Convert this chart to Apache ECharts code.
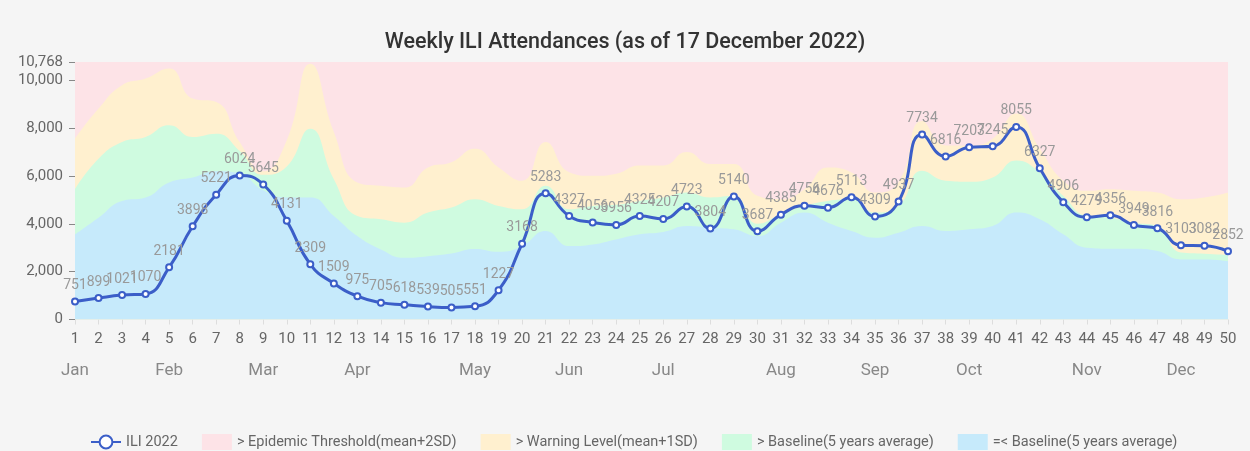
<!DOCTYPE html>
<html><head><meta charset="utf-8">
<script src="https://cdn.jsdelivr.net/npm/echarts@6/dist/echarts.min.js"></script>
<style>html,body{margin:0;padding:0;background:#f5f5f5}#c{width:1250px;height:451px}</style>
</head><body><div id="c"></div>
<script>
const weeks = ['1','2','3','4','5','6','7','8','9','10','11','12','13','14','15','16','17','18','19','20','21','22','23','24','25','26','27','28','29','30','31','32','33','34','35','36','37','38','39','40','41','42','43','44','45','46','47','48','49','50'];
const ili2022 = [751,899,1021,1070,2181,3898,5221,6024,5645,4131,2309,1509,975,705,618,539,505,551,1227,3168,5283,4327,4056,3956,4325,4207,4723,3804,5140,3687,4385,4756,4676,5113,4309,4937,7734,6816,7203,7245,8055,6327,4906,4279,4356,3949,3816,3103,3082,2852];
// Epidemic threshold (mean+2SD)
const epidemic = [7560,8820,9800,10080,10500,9240,9100,7420,6200,7500,10700,7840,5730,5590,5520,6360,6580,7140,6360,5800,7420,6160,6010,6100,6440,6440,7000,6500,6500,5170,5030,5450,6360,6150,5310,5730,8300,7280,7280,7560,8610,7140,5800,5380,5450,5380,5310,5030,5100,5310];
// Warning level (mean+1SD)
const warning = [5450,6720,7420,7630,8120,7630,7770,7050,6050,6400,7980,5870,4330,4190,4050,4470,4680,5030,4750,4610,5590,4610,4750,4800,4960,5100,5310,5100,5170,4000,4400,4750,4960,5030,4470,4750,6220,5800,5760,5940,6650,6150,5170,4330,4260,4050,3910,2800,2750,2700];
// Baseline (5 years average)
const baseline = [3560,4260,4960,5100,5730,5940,6200,6100,5400,5100,5100,4330,3490,2930,2580,2650,2760,2950,2830,3070,3700,3070,3140,3350,3560,3660,3910,3840,3770,3490,4050,4470,4050,3700,3420,3630,3910,3700,3770,3910,4470,4190,3560,3000,2960,2960,2860,2510,2510,2440];
const yMax = 10768;
const yTicks = [0,2000,4000,6000,8000,10000,10768];
const monthNames = ['Jan','Feb','Mar','Apr','May','Jun','Jul','Aug','Sep','Oct','Nov','Dec'];
const monthWeeks = [1,5,9,13,18,22,26,31,35,39,44,48];

const monthLabels = weeks.map(w => { const i = monthWeeks.indexOf(+w); return i >= 0 ? monthNames[i] : ''; });
const names = ['ILI 2022','> Epidemic Threshold(mean+2SD)','> Warning Level(mean+1SD)','> Baseline(5 years average)','=< Baseline(5 years average)'];
const cPink='#fde3e7', cYellow='#fff0cf', cGreen='#cffbe0', cBlue='#c6eafb', cLine='#3b5ec8';

const chart = echarts.init(document.getElementById('c'), null, {renderer:'canvas'});
const fam = 'Roboto, "Noto Sans", sans-serif';
function area(name, data, color){
  return {name, type:'line', data, smooth:true, symbol:'none', showSymbol:false,
    lineStyle:{width:0}, itemStyle:{color}, areaStyle:{color, opacity:1}, silent:true, z:1};
}
chart.setOption({
  backgroundColor:'#f5f5f5',
  animation:false,
  textStyle:{fontFamily:fam},
  title:{text:'Weekly ILI Attendances (as of 17 December 2022)', left:'center', top:27,
    textStyle:{fontSize:21.5, fontWeight:500, color:'#333', fontFamily:fam}},
  grid:{left:75, right:22, top:62, bottom:131.5, show:true, backgroundColor:cPink, borderWidth:0},
  legend:{left:85, top:429, itemGap:24, itemWidth:30, itemHeight:16,
    textStyle:{fontSize:14.5, color:'#666', fontFamily:fam},
    data:[{name:names[0]},{name:names[1],icon:'rect'},{name:names[2],icon:'rect'},{name:names[3],icon:'rect'},{name:names[4],icon:'rect'}]},
  xAxis:[
    {type:'category', data:weeks, boundaryGap:false,
      axisLine:{show:false}, axisTick:{show:true, alignWithLabel:true, lineStyle:{color:'#ddd'}},
      axisLabel:{interval:0, fontSize:15, color:'#666', margin:12}},
    {type:'category', data:monthLabels, boundaryGap:false, position:'bottom', offset:31,
      axisLine:{show:false}, axisTick:{show:false},
      axisLabel:{interval:0, fontSize:17, color:'#888', margin:12}}
  ],
  yAxis:{type:'value', min:0, max:yMax, interval:2000,
    splitLine:{show:false}, axisLine:{show:false},
    axisTick:{show:true, length:6, lineStyle:{color:'#888'}},
    axisLabel:{fontSize:15, color:'#666', margin:12,
      formatter:v => yTicks.includes(v) ? v.toLocaleString('en-US') : ''}},
  series:[
    {name:names[1], type:'line', data:[], itemStyle:{color:cPink}, areaStyle:{color:cPink}, lineStyle:{width:0}},
    area(names[2], epidemic, cYellow),
    area(names[3], warning, cGreen),
    area(names[4], baseline, cBlue),
    {name:names[0], type:'line', data:ili2022, smooth:true, z:5,
      symbol:'emptyCircle', symbolSize:6,
      lineStyle:{width:3, color:cLine}, itemStyle:{color:cLine, borderWidth:1.5},
      label:{show:true, position:'top', fontSize:14, color:'#999', distance:5}}
  ]
});
</script></body></html>
